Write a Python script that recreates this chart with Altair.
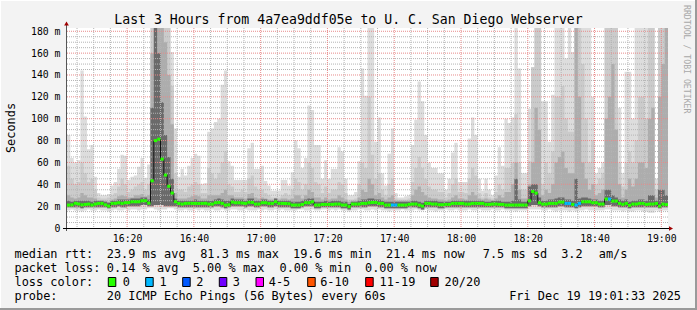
import altair as alt
import pandas as pd

# ---------------- data ----------------
T0 = 2  # first minute after 16:00 shown at the left edge

median_ms = [
    21.0, 21.2, 22.6, 22.0, 21.2, 21.6, 21.9, 21.0, 21.9, 22.5,
    22.5, 21.2, 20.1, 22.5, 22.6, 23.1, 22.5, 23.1, 23.2, 24.0,
    24.0, 24.0, 24.9, 24.9, 22.8, 43.2, 80.0, 81.3, 63.0, 48.4,
    38.2, 32.0, 24.0, 22.5, 21.9, 22.5, 22.6, 22.5, 22.5, 22.4,
    22.5, 22.6, 21.9, 21.9, 23.1, 23.4, 22.5, 21.0, 21.2, 23.7,
    23.1, 23.1, 22.8, 22.5, 23.5, 23.4, 21.9, 21.9, 23.1, 23.1,
    22.5, 22.5, 24.0, 22.5, 22.5, 22.4, 22.2, 21.0, 21.0, 21.0,
    21.6, 23.1, 23.1, 24.0, 21.0, 21.0, 21.6, 21.6, 21.6, 21.6,
    21.9, 21.9, 21.0, 21.0, 19.6, 21.9, 21.9, 21.9, 22.5, 22.5,
    23.1, 23.4, 23.4, 22.5, 22.5, 21.0, 21.0, 21.0, 21.0, 21.0,
    21.0, 21.0, 21.6, 21.9, 21.9, 21.0, 20.1, 22.5, 22.5, 21.9,
    21.9, 21.3, 21.3, 21.6, 21.6, 22.5, 22.5, 22.5, 22.5, 21.9,
    21.9, 22.5, 22.5, 22.5, 22.5, 21.6, 21.6, 21.9, 21.9, 21.6,
    21.6, 21.0, 21.0, 21.0, 21.0, 21.0, 21.0, 21.0, 24.9, 33.4,
    31.9, 23.1, 21.9, 21.9, 22.5, 22.5, 22.5, 23.7, 23.7, 22.5,
    22.5, 21.6, 21.0, 22.5, 24.0, 24.0, 24.0, 23.1, 23.1, 21.9,
    21.9, 26.5, 26.5, 24.6, 24.6, 22.5, 21.6, 22.5, 20.7, 21.9,
    21.9, 22.5, 22.5, 21.6, 21.9, 21.9, 22.5, 20.1, 21.9, 21.4,
]

smoke_max = [
    85, 64, 60, 62, 144, 102, 72, 76, 47, 32,
    30, 30, 31, 39, 42, 54, 67, 66, 44, 47,
    48, 56, 64, 46, 58, 183, 183, 183, 183, 183,
    183, 161, 91, 47, 54, 48, 57, 64, 68, 66,
    40, 41, 88, 91, 97, 100, 131, 144, 61, 57,
    44, 44, 44, 44, 73, 78, 54, 54, 57, 43,
    39, 34, 34, 34, 44, 44, 39, 51, 80, 73,
    55, 64, 112, 108, 76, 76, 45, 62, 45, 54,
    54, 74, 70, 45, 30, 30, 33, 61, 146, 121,
    183, 183, 79, 101, 50, 39, 68, 91, 32, 28,
    28, 29, 30, 76, 99, 134, 116, 85, 60, 55,
    55, 50, 50, 35, 45, 69, 78, 42, 42, 42,
    82, 101, 85, 45, 34, 45, 35, 30, 48, 74,
    57, 100, 96, 101, 183, 146, 50, 50, 109, 147,
    183, 183, 116, 116, 79, 122, 183, 183, 183, 155,
    183, 161, 183, 183, 183, 183, 183, 120, 50, 55,
    60, 183, 183, 183, 183, 110, 50, 143, 143, 100,
    183, 183, 183, 183, 183, 183, 45, 183, 183, 183,
]

smoke_q3 = [
    57, 45, 40, 42, 60, 50, 42, 45, 35, 28,
    27, 27, 28, 30, 32, 38, 45, 40, 33, 35,
    38, 40, 42, 35, 40, 183, 183, 183, 183, 183,
    183, 130, 50, 35, 35, 33, 38, 40, 42, 40,
    32, 32, 55, 50, 45, 50, 60, 70, 40, 38,
    33, 33, 35, 33, 45, 48, 38, 35, 35, 32,
    30, 28, 28, 28, 30, 32, 30, 35, 45, 42,
    35, 40, 60, 55, 42, 40, 32, 38, 32, 35,
    35, 42, 40, 32, 26, 26, 27, 40, 60, 55,
    120, 67, 45, 50, 35, 30, 40, 45, 27, 26,
    26, 26, 27, 42, 55, 65, 55, 45, 38, 35,
    35, 33, 33, 28, 32, 40, 45, 33, 33, 32,
    45, 55, 48, 32, 28, 32, 28, 27, 33, 40,
    35, 55, 55, 60, 104, 60, 35, 35, 61, 147,
    183, 183, 40, 60, 50, 70, 120, 120, 130, 100,
    88, 88, 183, 183, 150, 100, 60, 80, 40, 45,
    50, 183, 183, 183, 183, 60, 38, 60, 70, 60,
    80, 120, 120, 100, 183, 183, 35, 183, 183, 183,
]

smoke_q2 = [
    30, 28, 27, 28, 32, 30, 28, 28, 27, 25,
    25, 25, 24, 26, 27, 29, 30, 29, 28, 28,
    30, 30, 31, 29, 30, 160, 183, 183, 183, 170,
    140, 95, 32, 27, 27, 27, 28, 29, 30, 29,
    27, 27, 30, 30, 30, 30, 32, 35, 30, 30,
    28, 28, 28, 27, 31, 32, 28, 27, 28, 27,
    26, 26, 27, 26, 27, 27, 26, 27, 30, 30,
    27, 30, 35, 33, 28, 28, 26, 28, 26, 27,
    27, 30, 28, 26, 24, 25, 25, 28, 35, 33,
    45, 40, 30, 32, 28, 26, 28, 30, 25, 25,
    25, 25, 25, 30, 35, 38, 33, 30, 28, 27,
    27, 26, 26, 25, 26, 28, 30, 27, 27, 26,
    30, 33, 30, 27, 26, 27, 26, 25, 27, 30,
    28, 33, 33, 40, 60, 35, 27, 27, 40, 60,
    110, 90, 30, 35, 32, 40, 60, 65, 70, 55,
    50, 50, 183, 120, 60, 45, 35, 40, 30, 32,
    35, 100, 120, 150, 90, 40, 28, 35, 45, 38,
    45, 60, 60, 55, 100, 110, 28, 120, 150, 183,
]

smoke_q1 = [
    25, 24, 25, 25, 25, 25, 25, 24, 25, 25,
    25, 24, 23, 25, 25, 26, 26, 26, 26, 27,
    27, 27, 28, 28, 26, 110, 183, 160, 115, 85,
    65, 45, 27, 25, 25, 25, 25, 25, 26, 25,
    25, 25, 25, 25, 26, 27, 26, 25, 25, 27,
    26, 26, 26, 25, 27, 27, 25, 25, 26, 26,
    25, 25, 27, 25, 25, 25, 25, 24, 24, 24,
    25, 26, 27, 27, 24, 24, 24, 25, 24, 25,
    25, 25, 24, 24, 22, 24, 24, 25, 26, 26,
    27, 27, 26, 26, 25, 24, 24, 24, 24, 24,
    24, 24, 24, 25, 25, 24, 23, 25, 25, 25,
    25, 24, 24, 24, 24, 25, 25, 25, 25, 25,
    25, 25, 25, 25, 25, 24, 24, 25, 25, 25,
    24, 24, 24, 25, 45, 26, 24, 24, 38, 40,
    40, 28, 25, 25, 26, 26, 27, 28, 28, 26,
    26, 25, 45, 27, 28, 28, 27, 26, 26, 25,
    25, 35, 35, 30, 28, 26, 25, 26, 24, 25,
    25, 26, 26, 25, 30, 30, 25, 35, 35, 30,
]

smoke_low = [
    19, 19, 19, 19, 18, 19, 19, 19, 19, 19, 19, 19, 18, 19, 19, 20, 19, 19, 20, 20,
    20, 20, 21, 21, 20, 20, 21, 21, 21, 20, 20, 20, 20, 19, 19, 19, 19, 19, 19, 19,
    19, 19, 19, 19, 20, 20, 19, 18, 19, 20, 20, 20, 20, 19, 20, 20, 19, 19, 20, 20,
    19, 19, 20, 19, 19, 19, 19, 18, 18, 18, 19, 20, 20, 20, 18, 18, 19, 19, 19, 19,
    19, 19, 18, 18, 17, 19, 19, 19, 19, 19, 20, 20, 20, 19, 19, 18, 18, 18, 18, 18,
    18, 18, 19, 19, 19, 18, 17, 19, 19, 19, 19, 18, 18, 19, 19, 19, 19, 19, 19, 19,
    19, 19, 19, 19, 19, 19, 19, 19, 19, 19, 19, 18, 18, 18, 18, 18, 18, 18, 20, 21,
    21, 20, 19, 19, 19, 19, 19, 20, 20, 19, 19, 19, 18, 19, 20, 20, 20, 20, 20, 19,
    19, 21, 21, 20, 20, 19, 19, 19, 18, 19, 19, 19, 19, 19, 19, 19, 19, 18, 19, 19,
]

smoke_min = [
    16, 17, 16, 16, 15, 16, 17, 16, 16, 17, 16, 16, 15, 16, 17, 16, 16, 17, 16, 17,
    17, 16, 17, 17, 18, 18, 17, 16, 17, 17, 18, 18, 17, 16, 16, 17, 16, 16, 17, 16,
    17, 16, 16, 17, 16, 16, 17, 16, 16, 17, 17, 16, 16, 17, 16, 16, 16, 17, 16, 17,
    16, 16, 17, 16, 17, 16, 16, 16, 16, 17, 17, 16, 16, 17, 16, 16, 17, 17, 16, 17,
    16, 17, 16, 16, 15, 16, 16, 17, 17, 16, 16, 17, 16, 17, 16, 16, 15, 16, 16, 16,
    17, 16, 16, 16, 17, 16, 16, 17, 16, 16, 15, 16, 16, 17, 16, 16, 17, 16, 16, 16,
    17, 16, 16, 17, 16, 16, 16, 17, 16, 16, 17, 16, 16, 16, 15, 16, 16, 16, 17, 17,
    17, 17, 16, 16, 17, 16, 15, 16, 16, 16, 15, 16, 15, 16, 16, 17, 16, 16, 16, 16,
    16, 17, 17, 16, 16, 16, 15, 16, 15, 15, 16, 16, 15, 15, 14, 14, 16, 15, 16, 16,
]

loss_minutes = [97, 98, 149, 150, 152, 153, 162]   # minutes with 1 of 20 pings lost

y_ticks = [0, 20, 40, 60, 80, 100, 120, 140, 160, 180]
x_ticks = [20, 40, 60, 80, 100, 120, 140, 160, 180]   # minutes after 16:00

title_text = "Last 3 Hours from 4a7ea9ddf05e to U. C. San Diego Webserver"
legend_rows = [
    [("median rtt:", 15), ("23.9 ms avg", 107.3), ("81.3 ms max", 200.7), ("19.6 ms min", 293.5),
     ("21.4 ms now", 386.5), ("7.5 ms sd", 483.3), ("3.2", 561.7), ("am/s", 599.3)],
    [("packet loss:", 15), ("0.14 % avg", 107.3), ("5.00 % max", 193.3), ("0.00 % min", 280),
     ("0.00 % now", 365.5)],
    [("loss color:", 15)],
    [("probe:", 15), ("20 ICMP Echo Pings (56 Bytes) every 60s", 107.3)],
]
date_text = "Fri Dec 19 19:01:33 2025"
loss_labels = ["0", "1", "2", "3", "4-5", "6-10", "11-19", "20/20"]
loss_colors = ["#26ff00", "#00b8ff", "#0059ff", "#7000ff", "#ff00ff", "#ff5500", "#ff0000", "#a10000"]
loss_box_x = [108.3, 145.7, 182.7, 219.3, 256, 307.7, 365.7, 430.7]
loss_lab_x = [123.3, 160, 196.7, 233.3, 269.3, 320.7, 380, 445]

# ---------------- layout ----------------
PL, PT, W, H = 67, 28, 601, 200
TOTW, TOTH = 697, 310
MONO = "DejaVu Sans Mono"
FS = 11.9

n = len(median_ms)
df = pd.DataFrame({
    "t": [T0 + i for i in range(n)],
    "t2": [T0 + i + 1 for i in range(n)],
    "med": median_ms,
    "mx": smoke_max, "q3": smoke_q3, "q2": smoke_q2, "q1": smoke_q1,
    "low": smoke_low, "mn": smoke_min,
    "loss": [1 if i in loss_minutes else 0 for i in range(n)],
})
last = df.iloc[[-1]].copy()
last["t"] = T0 + n
df_step = pd.concat([df, last], ignore_index=True)

xs = alt.Scale(domain=[T0, T0 + 180], nice=False, zero=False)
ys = alt.Scale(domain=[0, 183], nice=False, zero=False)

x_axis = alt.Axis(values=x_ticks, grid=False, ticks=False, domain=False,
                  labelExpr="(16 + floor(datum.value/60)) + ':' + (datum.value % 60 < 10 ? '0' : '') + (datum.value % 60)",
                  labelFont=MONO, labelFontSize=9.8, labelColor="#000", labelPadding=5,
                  labelFlush=False, title=None)
y_axis = alt.Axis(values=y_ticks, grid=False, ticks=False, domain=False,
                  labelExpr="datum.value == 0 ? '0' : datum.value + ' m'",
                  labelFont=MONO, labelFontSize=9.8, labelColor="#000", labelPadding=7,
                  title=None)


def X(field):
    return alt.X(f"{field}:Q", scale=xs, axis=x_axis)


def Y(field):
    return alt.Y(f"{field}:Q", scale=ys, axis=y_axis)


def smoke(lo, hi, color):
    return alt.Chart(df_step).mark_area(interpolate="step-after", color=color, opacity=1, clip=True).encode(
        x=X("t"), y=Y(lo), y2=f"{hi}:Q")


layers = [
    smoke("mn", "mx", "#dddddd"),
    smoke("low", "q3", "#cbcbcb"),
    smoke("low", "q2", "#adadad"),
    smoke("low", "q1", "#6a6a6a"),
]

# grid (on top of the smoke, as in rrdtool)
minor_x = [m for m in range(5, 182, 5) if m % 20 != 0]
minor_y = [v for v in range(5, 181, 5) if v % 20 != 0]
g_minor_x = alt.Chart(pd.DataFrame({"t": minor_x})).mark_rule(color="#b4b4b4", strokeDash=[1, 1], strokeWidth=1).encode(x=X("t"))
g_minor_y = alt.Chart(pd.DataFrame({"v": minor_y})).mark_rule(color="#b4b4b4", strokeDash=[1, 1], strokeWidth=1).encode(y=Y("v"))
g_major_x = alt.Chart(pd.DataFrame({"t": x_ticks})).mark_rule(color="#e88a8a", strokeDash=[1, 1], strokeWidth=1).encode(x=X("t"))
g_major_y = alt.Chart(pd.DataFrame({"v": y_ticks[1:]})).mark_rule(color="#e88a8a", strokeDash=[1, 1], strokeWidth=1).encode(y=Y("v"))
layers += [g_minor_x, g_minor_y, g_major_x, g_major_y]

# median: thin black step line + thick coloured loss segments
med_line = alt.Chart(df_step).mark_line(interpolate="step-after", color="#111", strokeWidth=1, clip=True).encode(
    x=X("t"), y=Y("med"))
med_seg = alt.Chart(df).mark_rule(strokeWidth=3, strokeCap="butt").encode(
    x=X("t"), x2="t2:Q", y=Y("med"),
    color=alt.Color("loss:N", scale=alt.Scale(domain=[0, 1], range=[loss_colors[0], loss_colors[1]]), legend=None))
layers += [med_line, med_seg]

one = pd.DataFrame({"a": [0]})


def px(x):
    return x - PL


def py(y):
    return y - PT


# axis lines and arrows
layers.append(alt.Chart(one).mark_rule(color="#555", strokeWidth=1).encode(
    x=alt.value(-0.5), y=alt.value(py(24)), y2=alt.value(py(231))))
layers.append(alt.Chart(one).mark_rule(color="#000", strokeWidth=1).encode(
    x=alt.value(px(63)), x2=alt.value(px(670)), y=alt.value(H + 0.5)))
layers.append(alt.Chart(one).mark_point(shape="triangle-up", filled=True, size=22, color="#a00000", opacity=1).encode(
    x=alt.value(-0.5), y=alt.value(py(23.5))))
layers.append(alt.Chart(one).mark_point(shape="triangle-right", filled=True, size=22, color="#a00000", opacity=1).encode(
    x=alt.value(px(671)), y=alt.value(H + 0.5)))


def text(s, x, y, size=FS, align="left", angle=0, color="#000", baseline="alphabetic"):
    kw = dict(text=s.replace(" ", "\u00a0"), font=MONO, fontSize=size, align=align,
              baseline=baseline, color=color)
    if angle:
        kw["angle"] = angle
    return alt.Chart(one).mark_text(**kw).encode(x=alt.value(px(x)), y=alt.value(py(y)))


layers.append(text(title_text, 348.5, 24, size=13.2, align="center"))
layers.append(text("Seconds", 14.5, 128, size=FS, align="center", angle=270))
layers.append(text("RRDTOOL / TOBI OETIKER", 686, 5, size=8.2, align="left", angle=90,
                   color="#a8a8a8", baseline="middle"))

row_base = [258.3, 272.2, 286.1, 300.0]
for r, items in enumerate(legend_rows):
    for s, x in items:
        layers.append(text(s, x - 0.5, row_base[r]))
layers.append(text(date_text, 681, row_base[3], align="right"))

for bx, lx, lab, col in zip(loss_box_x, loss_lab_x, loss_labels, loss_colors):
    layers.append(alt.Chart(one).mark_rect(color=col, stroke="#000", strokeWidth=1).encode(
        x=alt.value(px(bx)), x2=alt.value(px(bx + 7.5)),
        y=alt.value(py(277.5)), y2=alt.value(py(286.5))))
    layers.append(text(lab, lx - 0.5, row_base[2]))

# outer 3-D frame of the rrdtool image
layers.append(alt.Chart(one).mark_rule(color="#9a9a9a", strokeWidth=2).encode(
    x=alt.value(px(0)), x2=alt.value(px(TOTW)), y=alt.value(py(TOTH - 1))))
layers.append(alt.Chart(one).mark_rule(color="#9a9a9a", strokeWidth=2).encode(
    x=alt.value(px(TOTW - 1)), y=alt.value(py(0)), y2=alt.value(py(TOTH))))
layers.append(alt.Chart(one).mark_rule(color="#ffffff", strokeWidth=1).encode(
    x=alt.value(px(0)), x2=alt.value(px(TOTW - 2)), y=alt.value(py(0.5))))
layers.append(alt.Chart(one).mark_rule(color="#ffffff", strokeWidth=1).encode(
    x=alt.value(px(0.5)), y=alt.value(py(0)), y2=alt.value(py(TOTH - 2))))

chart = alt.layer(*layers).properties(
    width=W, height=H,
    padding={"left": PL, "top": PT, "right": TOTW - PL - W, "bottom": TOTH - PT - H},
    autosize="none",
    background="#f3f3f3",
).configure_view(fill="#ffffff", strokeWidth=0)

chart.save("out.html", embed_options={"renderer": "svg", "actions": False})
